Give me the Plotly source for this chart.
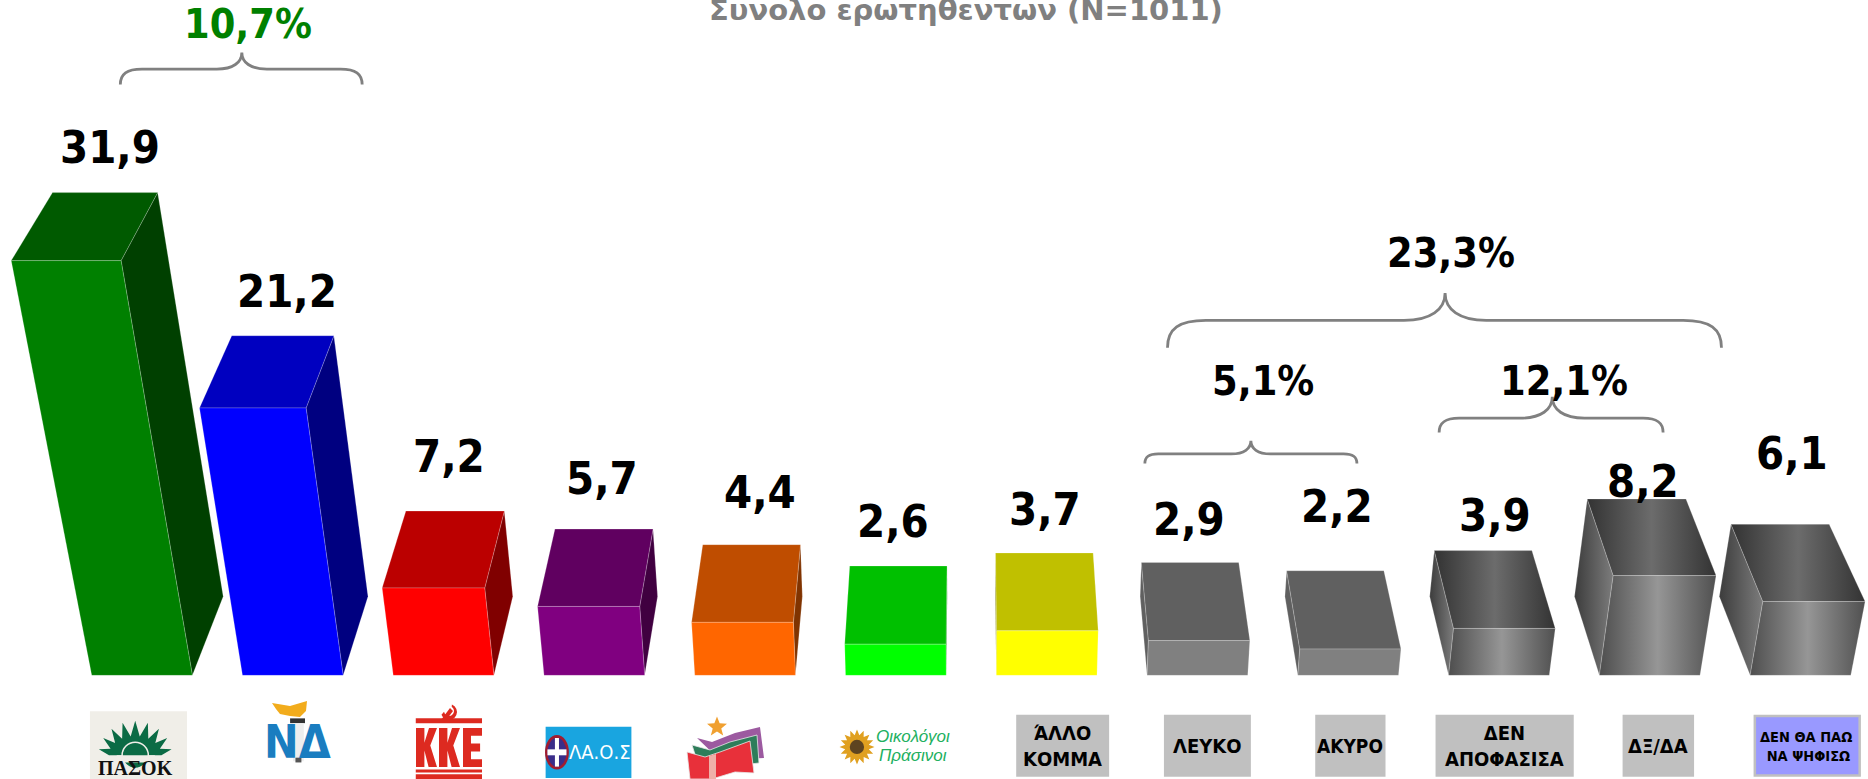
import math
import plotly.graph_objects as go

W, H = 1868, 779
K = 1868 / 1568  # the coordinates of labels below are on a 1568-wide sheet

# ---------------- data ----------------
categories = ["ΠΑΣΟΚ", "ΝΔ", "ΚΚΕ", "ΛΑΟΣ", "ΣΥΡΙΖΑ", "Οικολόγοι Πράσινοι", "ΑΛΛΟ ΚΟΜΜΑ",
              "ΛΕΥΚΟ", "ΑΚΥΡΟ", "ΔΕΝ ΑΠΟΦΑΣΙΣΑ", "ΔΞ/ΔΑ", "ΔΕΝ ΘΑ ΠΑΩ ΝΑ ΨΗΦΙΣΩ"]
values = [31.9, 21.2, 7.2, 5.7, 4.4, 2.6, 3.7, 2.9, 2.2, 3.9, 8.2, 6.1]
front_colors = ["#008000", "#0000ff", "#ff0000", "#800080", "#ff6600", "#00ff00", "#ffff00",
                "#808080", "#808080", None, None, None]
top_colors = ["#005a00", "#0000c0", "#bb0000", "#600060", "#bf4d00", "#00c000", "#c0c000",
              "#606060", "#606060", None, None, None]
side_colors = ["#004000", "#000080", "#800000", "#400040", "#803300", "#008000", "#808000",
               "#606060", "#606060", None, None, None]
title_text = "Συνολο ερωτηθεντων (N=1011)"
group_labels = ["10,7%", "23,3%", "5,1%", "12,1%"]
group_label_colors = ["#008000", "#000000", "#000000", "#000000"]

# ---------------- layout constants ----------------
PITCH = 126.55
BAR_W = 84.5 / PITCH
CX = 5.498           # x vanishing line, category units
A = 0.00263          # perspective gain per value unit
DEPTH_W = 0.0412     # perspective loss at back of box
DEPTH_Y = 6.9        # rise of the back of the box, value units
X_RANGE = [-119.25 / PITCH, (1568 - 119.25) / PITCH]
Y_RANGE = [-8.7, 56.7]

label_x = [92, 241, 377, 505, 638, 750, 877, 998, 1122, 1255, 1379, 1504]
label_y = [124, 245, 383, 402, 413, 438, 428, 436, 425, 433, 404, 381]
group_x = [208, 1218, 1060, 1313]
group_y = [20, 212, 320, 320]
braces = [(101, 304, 203, 44, 58, 71), (980, 1445, 1213, 246, 269, 292),
          (961, 1139, 1050, 370, 381, 389), (1208, 1396, 1303, 333, 351, 363)]
boxes = [(853, 931, "ΆΛΛΟ<br>ΚΟΜΜΑ", 20), (977, 1050, "ΛΕΥΚΟ", 20), (1104, 1163, "ΑΚΥΡΟ", 19),
         (1205, 1321, "ΔΕΝ<br>ΑΠΟΦΑΣΙΣΑ", 20), (1362, 1422, "ΔΞ/ΔΑ", 20)]

SANS = "DejaVu Sans Condensed, DejaVu Sans"
NARROW = "Liberation Sans Narrow, DejaVu Sans Condensed"


def project(x, v, z):
    w = 1 - A * v + DEPTH_W * z
    return CX + (x - CX) / w, (v + DEPTH_Y * z) / w


def px(x, y):
    return x * K / W, 1 - y * K / H


def fp(pts):
    return [(x / K, y / K) for x, y in pts]


fig = go.Figure()


def face(points, color=None, gradient=None):
    xs, ys = zip(*points)
    fig.add_trace(go.Scatter(
        x=list(xs) + [xs[0]], y=list(ys) + [ys[0]], mode="lines", fill="toself",
        fillcolor=color if color else None,
        fillgradient=dict(type="horizontal", colorscale=gradient) if gradient else None,
        line=dict(color="rgba(255,255,255,0.3)", width=0.7),
        hoverinfo="skip", showlegend=False))


GRAD_FRONT = [[0, "#4e4e4e"], [0.5, "#969696"], [1, "#505050"]]
GRAD_TOP = [[0, "#333333"], [0.5, "#6c6c6c"], [1, "#333333"]]
GRAD_SIDE = [[0, "#3c3c3c"], [1, "#7c7c7c"]]

for i, v in enumerate(values):
    l, r = i - BAR_W / 2, i + BAR_W / 2
    grad = front_colors[i] is None
    if r < CX or l > CX:
        e = r if r < CX else l
        face([project(e, 0, 0), project(e, v, 0), project(e, v, 1), project(e, 0, 1)],
             side_colors[i], GRAD_SIDE if grad else None)
    face([project(l, v, 0), project(r, v, 0), project(r, v, 1), project(l, v, 1)],
         top_colors[i], GRAD_TOP if grad else None)
    face([project(l, 0, 0), project(r, 0, 0), project(r, v, 0), project(l, v, 0)],
         front_colors[i], GRAD_FRONT if grad else None)

annotations = []


def text(x, y, s, size, color="#000000", family=SANS, weight=700, style="normal"):
    ax, ay = px(x, y)
    annotations.append(dict(x=ax, y=ay, xref="paper", yref="paper", text=s, showarrow=False,
                            xanchor="center", yanchor="middle", align="center",
                            font=dict(family=family, size=size, color=color, weight=weight, style=style)))


shapes = []


def path(points, fill=None, line=None, lw=0, close=True):
    d = ""
    for j, p in enumerate(points):
        a, b = px(*p)
        d += ("M" if j == 0 else "L") + f"{a:.5f},{b:.5f} "
    if close:
        d += "Z"
    shapes.append(dict(type="path", xref="paper", yref="paper", path=d,
                       fillcolor=fill if fill else "rgba(0,0,0,0)",
                       line=dict(color=line if line else "rgba(0,0,0,0)", width=lw)))


def rect(x0, x1, y0, y1, fill, line=None, lw=0):
    a0, b0 = px(x0, y0)
    a1, b1 = px(x1, y1)
    shapes.append(dict(type="rect", xref="paper", yref="paper", x0=a0, x1=a1, y0=b0, y1=b1,
                       fillcolor=fill, line=dict(color=line if line else "rgba(0,0,0,0)", width=lw)))


def ell(cx, cy, rx, ry, fill, line=None, lw=0):
    a0, b0 = px(cx - rx, cy - ry)
    a1, b1 = px(cx + rx, cy + ry)
    shapes.append(dict(type="circle", xref="paper", yref="paper", x0=a0, x1=a1, y0=b0, y1=b1,
                       fillcolor=fill, line=dict(color=line if line else "rgba(0,0,0,0)", width=lw)))


def brace(x0, x1, xc, tip, mid, end):
    def P(a, b):
        u, t = px(a, b)
        return f"{u:.5f},{t:.5f}"
    r = min(end - mid, 26) * 1.4
    q = (mid - tip) * 1.5
    d = (f"M{P(x0, end)} C{P(x0, mid + (end-mid)*0.3)} {P(x0 + r*0.3, mid)} {P(x0 + r, mid)} "
         f"L{P(xc - q, mid)} C{P(xc - q*0.35, mid)} {P(xc, mid - (mid-tip)*0.4)} {P(xc, tip)} "
         f"C{P(xc, mid - (mid-tip)*0.4)} {P(xc + q*0.35, mid)} {P(xc + q, mid)} "
         f"L{P(x1 - r, mid)} C{P(x1 - r*0.3, mid)} {P(x1, mid + (end-mid)*0.3)} {P(x1, end)}")
    shapes.append(dict(type="path", xref="paper", yref="paper", path=d,
                       line=dict(color="#808080", width=2.8)))


for b in braces:
    brace(*b)

for i, v in enumerate(values):
    text(label_x[i], label_y[i], f"{v:.1f}".replace(".", ","), 45)
for i, g in enumerate(group_labels):
    text(group_x[i], group_y[i], g, 41, group_label_colors[i])
text(810.5, 8.5, title_text, 29, "#808080", "DejaVu Sans")

# labelled boxes
for x0, x1, s, size in boxes:
    rect(x0, x1, 600, 652, "#c0c0c0")
    text((x0 + x1) / 2, 626, s, size)
rect(1473, 1561, 601, 651, "#9999ff", "#c0c0c0", 2.5)
text(1516, 627, "ΔΕΝ ΘΑ ΠΑΩ<br> ΝΑ ΨΗΦΙΣΩ", 14.5)

# --- logo: PASOK
rect(75.5, 157, 597, 654, "#f0eee8")
sun = []
n = 9
for k in range(2 * n + 1):
    ang = math.pi * k / (2 * n)
    rx, ry = (31, 29) if k % 2 else (22, 16)
    sun.append((113.5 - rx * math.cos(ang), 634 - ry * math.sin(ang)))
path(sun, "#0b6b45")
ell(113.5, 634, 11, 11, "#0b6b45", "#f0eee8", 1.5)
rect(98, 130, 634, 640, "#f0eee8")
text(113.5, 645, "ΠΑΣΟΚ", 20, "#111111", "Liberation Serif")

# --- logo: ND
path(fp([(272, 703), (290, 706), (307, 701), (306, 711), (300, 717), (290, 716), (280, 714), (276, 709)]), "#f2ac1c")
rect(243.5, 256, 603, 607, "#333333")
rect(246, 255, 607, 639, "#eeeeee")
rect(248, 253, 636, 640, "#555555")
text(249.5, 623, "ΝΔ", 46, "#1a7dc0", SANS, 700)

# --- logo: KKE
RED = "#dd2a20"
rect(349, 404.6, 603, 607, RED)
rect(349, 404.6, 646, 648.5, RED)
rect(349, 404.6, 650, 654, RED)


def in_box(pts, x0, x1, y0, y1):
    return fp([(x0 + a * (x1 - x0), y0 + b * (y1 - y0)) for a, b in pts])


K_SHAPE = [(0, 0), (.4, 0), (.4, .38), (.62, 0), (1, 0), (.68, .45), (1, 1), (.6, 1), (.4, .58), (.4, 1), (0, 1)]
E_SHAPE = [(0, 0), (1, 0), (1, .2), (.42, .2), (.42, .4), (.9, .4), (.9, .6), (.42, .6), (.42, .8), (1, .8), (1, 1), (0, 1)]
path(in_box(K_SHAPE, 416, 437, 728, 767), RED)
path(in_box(K_SHAPE, 439, 460, 728, 767), RED)
path(in_box(E_SHAPE, 463, 482, 728, 767), RED)
sickle = [(449 + 8 * math.cos(t / 10), 712 + 8 * math.sin(t / 10)) for t in range(-12, 32, 4)]
sickle += [(449 + 5 * math.cos(t / 10), 711 + 5 * math.sin(t / 10)) for t in range(30, -14, -4)]
path(fp(sickle), RED)
path(fp([(441, 720), (444, 723), (453, 711), (450, 708)]), RED)

# --- logo: LAOS
rect(458, 530, 610, 653, "#19a5e0")
ell(467.5, 631.5, 10, 14.5, "#a01c30")
ell(467.5, 631.5, 8, 12, "#3a2d8a")
rect(465.8, 469.2, 619.5, 643.5, "#ffffff")
rect(459.5, 475.5, 629, 634, "#ffffff")
text(503.5, 631.5, "ΛΑ.Ο.Σ", 20, "#ffffff", NARROW, 400)

# --- logo: SYRIZA
path(fp([(697, 738), (712, 742), (735, 733), (760, 727), (764, 758), (720, 760)]), "#9c5aa0")
path(fp([(692, 745), (710, 750), (730, 742), (757, 735), (759, 763), (700, 770)]), "#2e7d5a", "#e8e8e8", 0.8)
path(fp([(687, 752), (705, 757), (720, 752), (750, 741), (754, 773), (735, 772), (712, 779), (690, 779)]), "#e8303a", "#e8e8e8", 0.8)
path(fp([(709, 756), (716, 754), (716, 779), (709, 779)]), "#efb0a8")
star = []
for k in range(10):
    r = 10.5 if k % 2 == 0 else 4.5
    a = -math.pi / 2 + k * math.pi / 5
    star.append((717 + r * math.cos(a), 727 + r * math.sin(a)))
path(fp(star), "#f0a030")

# --- logo: Ecologists
petals = []
for k in range(32):
    r = 17.5 if k % 2 == 0 else 12
    a = k * math.pi / 16
    petals.append((857 + r * math.cos(a), 747 + r * math.sin(a)))
path(fp(petals), "#e0a020")
ell(719.3, 627, 6, 6, "#5e4420")
text(766.5, 618.5, "Οικολόγοι", 17, "#22b060", "Liberation Sans", 400, "italic")
text(766.5, 634, "Πράσινοι", 17, "#22b060", "Liberation Sans", 400, "italic")

fig.update_layout(
    width=W, height=H, margin=dict(l=0, r=0, t=0, b=0), paper_bgcolor="white", plot_bgcolor="white",
    showlegend=False, annotations=annotations, shapes=shapes,
    xaxis=dict(range=X_RANGE, visible=False, fixedrange=True),
    yaxis=dict(range=Y_RANGE, visible=False, fixedrange=True),
)
fig.write_html("out.html", config=dict(displayModeBar=False),
               post_script="document.body.style.margin='0';document.body.style.overflow='hidden';")
